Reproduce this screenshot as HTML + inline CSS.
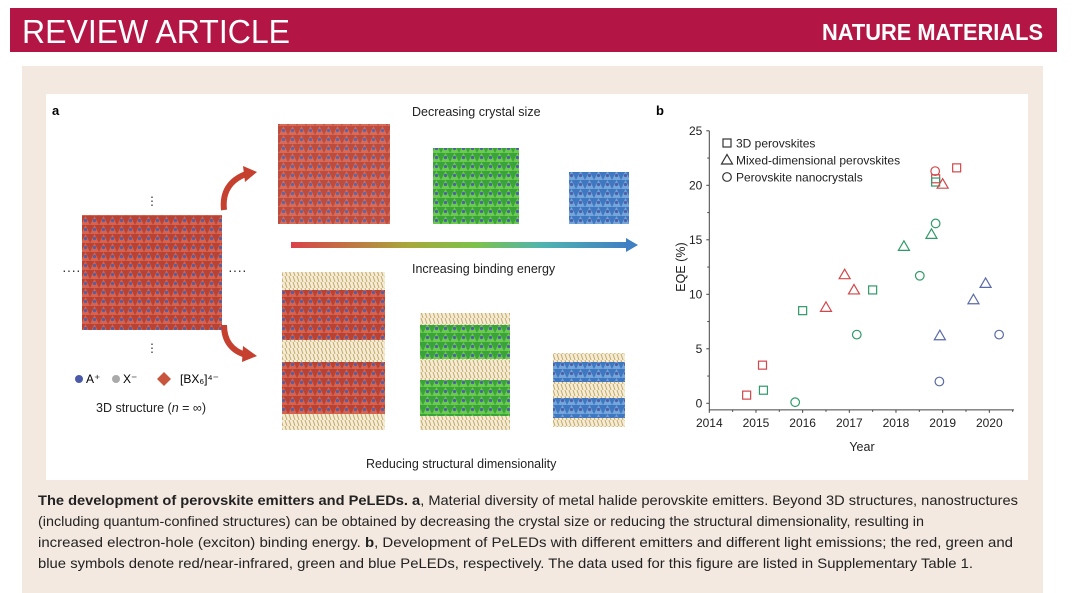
<!DOCTYPE html>
<html><head><meta charset="utf-8"><style>
html,body{margin:0;padding:0;width:1080px;height:593px;overflow:hidden;background:#fff;font-family:"Liberation Sans",sans-serif}
svg{position:absolute;left:0;top:0}
</style></head><body>
<svg width="1080" height="593" viewBox="0 0 1080 593">
<defs>
<linearGradient id="arr" x1="0" x2="1"><stop offset="0" stop-color="#d9424a"/><stop offset="0.35" stop-color="#a7a83a"/><stop offset="0.55" stop-color="#7cc24a"/><stop offset="0.75" stop-color="#4fb4b0"/><stop offset="1" stop-color="#3f7fc4"/></linearGradient>
<pattern id="dots" width="9" height="9" patternUnits="userSpaceOnUse"><rect width="9" height="9" fill="#b84334"/><path d="M0 9L4.5 0L9 9" fill="#d7624f"/><circle cx="4.5" cy="4.5" r="1.6" fill="#4f5fa8"/></pattern>
<pattern id="dotsg" width="9" height="9" patternUnits="userSpaceOnUse"><rect width="9" height="9" fill="#3aa33a"/><path d="M0 9L4.5 0L9 9" fill="#6bcb4e"/><circle cx="4.5" cy="4.5" r="1.6" fill="#4f5fa8"/></pattern>
<pattern id="dotsb" width="9" height="9" patternUnits="userSpaceOnUse"><rect width="9" height="9" fill="#3f78c0"/><path d="M0 9L4.5 0L9 9" fill="#74a6db"/><circle cx="4.5" cy="4.5" r="1.6" fill="#4f5fa8"/></pattern>
<pattern id="org" width="8" height="6" patternUnits="userSpaceOnUse"><rect width="8" height="6" fill="#f3ecd8"/><path d="M1 0L3 6M5 0L7 6" stroke="#c9a860" stroke-width="1"/></pattern>
</defs>
<rect x="10" y="8" width="1047" height="44" fill="#b31545"/>
<text x="22" y="43" font-size="33" fill="#fff" textLength="268" lengthAdjust="spacingAndGlyphs">REVIEW ARTICLE</text>
<text x="822" y="40" font-size="23" font-weight="bold" fill="#fff" textLength="221" lengthAdjust="spacingAndGlyphs">NATURE MATERIALS</text>
<rect x="22" y="66" width="1021" height="527" fill="#f4e9e1"/>
<rect x="46" y="94" width="982" height="386" fill="#fff"/>

<g>
<text x="52" y="115" font-size="13" font-weight="bold">a</text>
<text x="412" y="116" font-size="12.5" fill="#222">Decreasing crystal size</text>
<rect x="82" y="215" width="140" height="115" fill="url(#dots)"/>
<text x="62" y="275" font-size="14" fill="#333">····</text><text x="228" y="275" font-size="14" fill="#333">····</text>
<text x="146" y="205" font-size="12" fill="#333">⋮</text><text x="146" y="352" font-size="12" fill="#333">⋮</text>
<g>
<path d="M224 210c-2-18 6-30 22-36" fill="none" stroke="#c5402f" stroke-width="6"/>
<path d="M243 166l14 6l-12 10z" fill="#c5402f"/>
</g>
<g>
<path d="M224 325c0 16 8 26 22 30" fill="none" stroke="#c5402f" stroke-width="6"/>
<path d="M243 346l14 10l-15 6z" fill="#c5402f"/>
</g>
<rect x="278" y="124" width="112" height="100" fill="url(#dots)" opacity="0.95"/>
<rect x="433" y="148" width="86" height="76" fill="url(#dotsg)"/>
<rect x="569" y="172" width="60" height="52" fill="url(#dotsb)"/>
<rect x="291" y="242" width="336" height="6" fill="url(#arr)"/><path d="M626 238l12 7l-12 7z" fill="#3f7fc4"/>
<text x="412" y="273" font-size="12.5" fill="#222">Increasing binding energy</text>
<rect x="282" y="272" width="103" height="158" fill="url(#org)"/>
<rect x="282" y="290" width="103" height="50" fill="url(#dots)"/><rect x="282" y="362" width="103" height="52" fill="url(#dots)"/>
<rect x="420" y="313" width="90" height="117" fill="url(#org)"/>
<rect x="420" y="325" width="90" height="34" fill="url(#dotsg)"/><rect x="420" y="380" width="90" height="36" fill="url(#dotsg)"/>
<rect x="553" y="353" width="72" height="74" fill="url(#org)"/>
<rect x="553" y="362" width="72" height="20" fill="url(#dotsb)"/><rect x="553" y="398" width="72" height="20" fill="url(#dotsb)"/>
<circle cx="79" cy="379" r="4" fill="#4a5aa8"/><text x="86" y="383" font-size="12">A⁺</text>
<circle cx="116" cy="379" r="4" fill="#aaa"/><text x="123" y="383" font-size="12">X⁻</text>
<path d="M164 372l7 7l-7 7l-7-7z" fill="#c9553d"/><text x="180" y="383" font-size="12">[BX₆]⁴⁻</text>
<text x="96" y="412" font-size="12.5" fill="#222">3D structure (<tspan font-style="italic">n</tspan> = ∞)</text>
<text x="366" y="468" font-size="12.5" fill="#222">Reducing structural dimensionality</text>
</g>

<g id="chart">
<text x="656" y="115" font-size="13" font-weight="bold">b</text>
</g>

<g font-size="14" fill="#222">
<text x="38" y="505" textLength="980" lengthAdjust="spacingAndGlyphs"><tspan font-weight="bold">The development of perovskite emitters and PeLEDs. a</tspan>, Material diversity of metal halide perovskite emitters. Beyond 3D structures, nanostructures</text>
<text x="38" y="526" textLength="886" lengthAdjust="spacingAndGlyphs">(including quantum-confined structures) can be obtained by decreasing the crystal size or reducing the structural dimensionality, resulting in</text>
<text x="38" y="547" textLength="975" lengthAdjust="spacingAndGlyphs">increased electron-hole (exciton) binding energy. <tspan font-weight="bold">b</tspan>, Development of PeLEDs with different emitters and different light emissions; the red, green and</text>
<text x="38" y="568" textLength="935" lengthAdjust="spacingAndGlyphs">blue symbols denote red/near-infrared, green and blue PeLEDs, respectively. The data used for this figure are listed in Supplementary Table 1.</text>
</g>
</svg>
<script>
const xTicks=[2014,2015,2016,2017,2018,2019,2020];
const yTicks=[0,5,10,15,20,25];
const years=[2014.8,2015.14,2018.85,2019.3,2015.16,2016.0,2017.5,2018.85,2016.5,2016.9,2017.1,2019.0,2018.17,2018.76,2018.94,2019.66,2019.92,2018.84,2015.84,2017.16,2018.51,2018.85,2018.93,2020.21];
const eqe=[0.75,3.5,20.6,21.6,1.2,8.5,10.4,20.3,8.8,11.8,10.4,20.1,14.4,15.5,6.2,9.5,11.0,21.3,0.1,6.3,11.7,16.5,2.0,6.3];
const shapes=["s","s","s","s","s","s","s","s","t","t","t","t","t","t","t","t","t","c","c","c","c","c","c","c"];
const colors=["r","r","r","r","g","g","g","g","r","r","r","r","g","g","b","b","b","r","g","g","g","g","b","b"];
const legendLabels=["3D perovskites","Mixed-dimensional perovskites","Perovskite nanocrystals"];
const NS="http://www.w3.org/2000/svg";
const g=document.getElementById('chart');
const X=v=>709.3+(v-2014)*46.67, Y=v=>403.3-v*10.9;
const col={r:"#d2474a",g:"#2f9a68",b:"#5a6aa6"};
function mk(t,a,p){const e=document.createElementNS(NS,t);for(const k in a)e.setAttribute(k,a[k]);(p||g).appendChild(e);return e;}
let ax=mk('path',{d:`M${X(2014)} ${Y(25)}V${Y(-0.6)}H1014`,fill:'none',stroke:'#444','stroke-width':1});


for(let v=2014;v<=2020.5;v+=0.5){mk('line',{x1:X(v),x2:X(v),y1:Y(-0.6),y2:Y(-0.6)+(v%1?2:3),stroke:'#444'});}
for(let v=0;v<=25;v+=2.5){mk('line',{x1:X(2014),x2:X(2014)-(v%5?2:3),y1:Y(v),y2:Y(v),stroke:'#444'});}
xTicks.forEach(t=>{const e=mk('text',{x:X(t),y:Y(-0.6)+17,'font-size':12,'text-anchor':'middle',fill:'#222'});e.textContent=t;

});
yTicks.forEach(t=>{const e=mk('text',{x:X(2014)-7,y:Y(t)+4,'font-size':12,'text-anchor':'end',fill:'#222'});e.textContent=t;

});
let xt=mk('text',{x:862,y:451,'font-size':12.5,'text-anchor':'middle',fill:'#222'});xt.textContent='Year';


let yt=mk('text',{x:0,y:0,'font-size':12.5,'text-anchor':'middle',fill:'#222',transform:`translate(685 ${Y(12.5)}) rotate(-90)`});yt.textContent='EQE (%)';


function marker(s,x,y,c,par){
 if(s==='s')return mk('rect',{x:x-4,y:y-4,width:8,height:8,fill:'none',stroke:c,'stroke-width':1.2},par);
 if(s==='t')return mk('path',{d:`M${x} ${y-5.5}L${x+5.5} ${y+4}L${x-5.5} ${y+4}Z`,fill:'none',stroke:c,'stroke-width':1.2},par);
 return mk('circle',{cx:x,cy:y,r:4.3,fill:'none',stroke:c,'stroke-width':1.2},par);
}
years.forEach((yr,i)=>{const m=marker(shapes[i],X(yr),Y(eqe[i]),col[colors[i]]);

});
legendLabels.forEach((l,i)=>{const yy=143+i*17;const m=marker(['s','t','c'][i],727,yy,'#333');


const e=mk('text',{x:736,y:yy+4.5,'font-size':12,fill:'#222'});e.textContent=l;

});
</script>
</body></html>
